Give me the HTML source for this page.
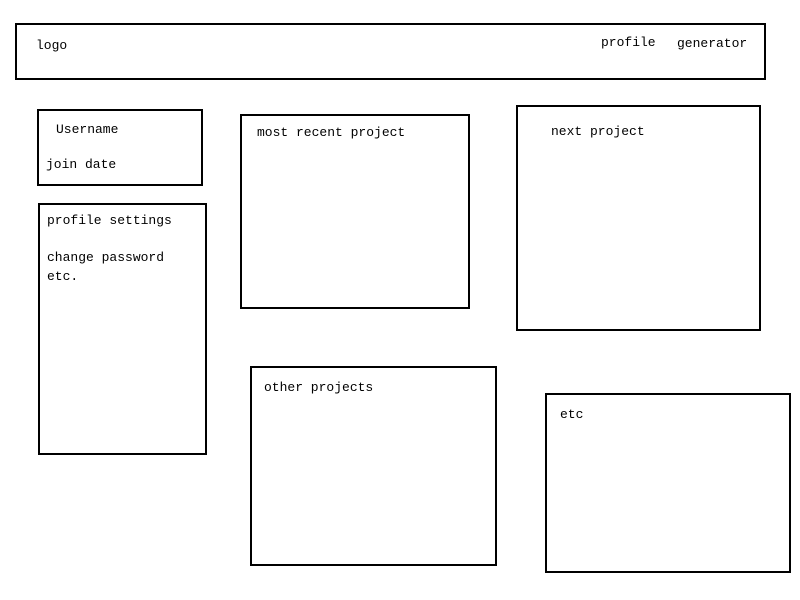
<!DOCTYPE html>
<html><head><style>
body{margin:0;width:800px;height:600px;background:#fff;position:relative;overflow:hidden;font-family:"Liberation Mono","Noto Serif CJK SC",monospace;font-size:13px;color:#000}
.b{position:absolute;border:2px solid #000;box-sizing:border-box}
.t{position:absolute;line-height:16px;white-space:nowrap}
</style></head><body>
<div class="b" style="left:15px;top:23px;width:751px;height:57px"></div>
<div class="b" style="left:37px;top:109px;width:166px;height:77px"></div>
<div class="b" style="left:38px;top:203px;width:169px;height:252px"></div>
<div class="b" style="left:240px;top:114px;width:230px;height:195px"></div>
<div class="b" style="left:516px;top:105px;width:245px;height:226px"></div>
<div class="b" style="left:250px;top:366px;width:247px;height:200px"></div>
<div class="b" style="left:545px;top:393px;width:246px;height:180px"></div>
<div class="t" style="left:36px;top:38px">logo</div>
<div class="t" style="left:601px;top:35px">profile</div>
<div class="t" style="left:677px;top:36px">generator</div>
<div class="t" style="left:56px;top:122px">Username</div>
<div class="t" style="left:46px;top:157px">join date</div>
<div class="t" style="left:47px;top:213px">profile settings</div>
<div class="t" style="left:47px;top:250px">change password</div>
<div class="t" style="left:47px;top:269px">etc.</div>
<div class="t" style="left:257px;top:125px">most recent project</div>
<div class="t" style="left:551px;top:124px">next project</div>
<div class="t" style="left:264px;top:380px">other projects</div>
<div class="t" style="left:560px;top:407px">etc</div>
</body></html>
